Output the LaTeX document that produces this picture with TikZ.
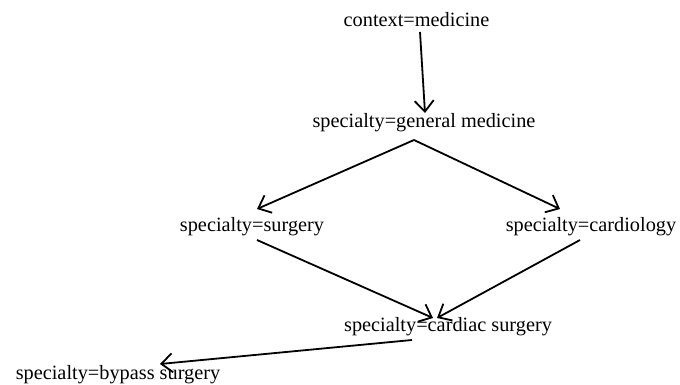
\documentclass[tikz,border=0pt]{standalone}
\usepackage{fontspec}
\setmainfont{Liberation Serif}
\usetikzlibrary{arrows.meta,calc}
\begin{document}
\begin{tikzpicture}[x=1pt,y=-1pt,
  lbl/.style={inner sep=0pt,text height=14pt,text depth=4.5pt,font=\fontsize{20.3}{24}\selectfont},
  arr/.style={line width=1.8pt,-{Straight Barb[length=11pt,width=19pt,line width=1.8pt]}}]
\useasboundingbox (0,0) rectangle (680,385);
\node[lbl] (c)  at (416.5,22) {context=medicine};
\node[lbl] (gm) at (424,123) {specialty=general medicine};
\node[lbl] (s)  at (252,227) {specialty=surgery};
\node[lbl] (cd) at (591,227) {specialty=cardiology};
\node[lbl] (cs) at (448,327) {specialty=cardiac surgery};
\node[lbl] (b)  at (118,375) {specialty=bypass surgery};
\draw[arr] ($(c)+(3.5,10)$) -- ($(gm)+(1,-10)$);
\draw[arr] ($(gm)+(-10,17)$) -- ($(s)+(5,-18)$);
\draw[arr] ($(gm)+(-10,17)$) -- ($(cd)+(-31,-18)$);
\draw[arr] ($(s)+(5,13)$) -- ($(cs)+(-15,-9)$);
\draw[arr] ($(cd)+(-11,13)$) -- ($(cs)+(-11,-9)$);
\draw[arr] ($(cs)+(-36,13)$) -- ($(b)+(42,-11)$);
\end{tikzpicture}
\end{document}
